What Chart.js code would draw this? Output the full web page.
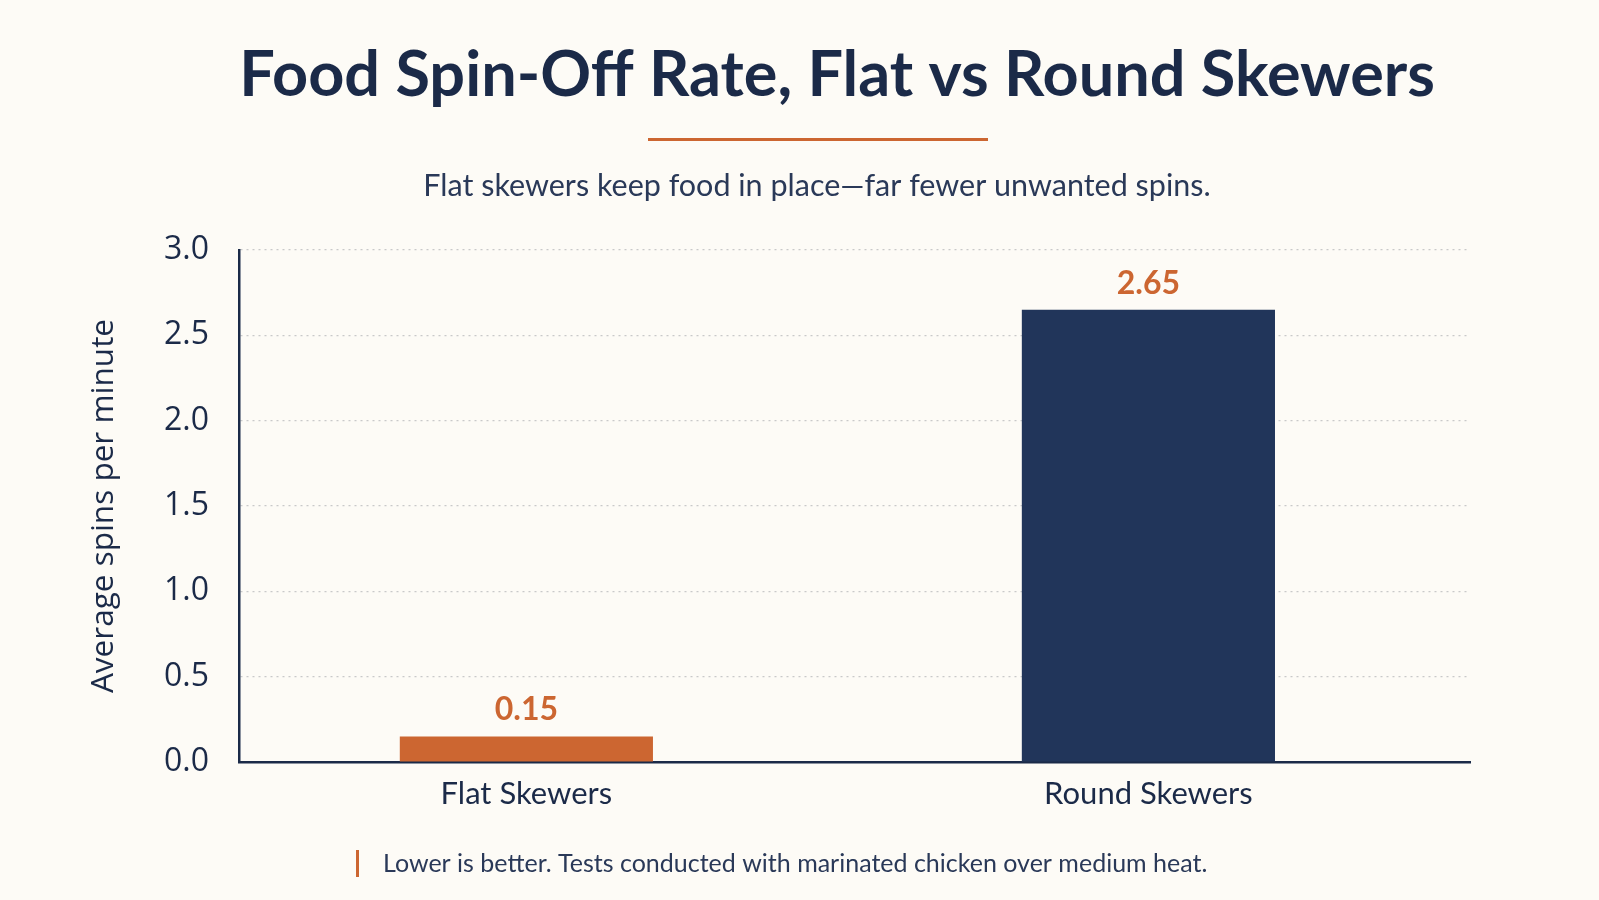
<!DOCTYPE html>
<html>
<head>
<meta charset="utf-8">
<title>Food Spin-Off Rate</title>
<script src="https://cdn.jsdelivr.net/npm/chart.js@4.4.1/dist/chart.umd.min.js"></script>
<style>
  html, body { margin: 0; padding: 0; background: #fdfbf6; }
  #wrap { position: relative; width: 1599px; height: 900px; }
</style>
</head>
<body>
<div id="wrap"><canvas id="spinChart"></canvas></div>
<script>
// data
const categories = ["Flat Skewers", "Round Skewers"];
const spinRates = [0.15, 2.65];
const barColors = ["#cc6631", "#21355a"];
const yMin = 0;
const yMax = 3.0;
const yStep = 0.5;
// category index range shown on the x axis (bars sit a little left of centre)
const xMin = -0.462;
const xMax = 1.517;

const titleText = "Food Spin-Off Rate, Flat vs Round Skewers";
const subtitleText = "Flat skewers keep food in place\u2014far fewer unwanted spins.";
const footText = "Lower is better. Tests conducted with marinated chicken over medium heat.";
const yTitle = "Average spins per minute";

const navy = "#1b2a48";
const orange = "#cc6631";

// title, accent rule, subtitle, footnote and value labels
const decoPlugin = {
    id: "deco",
    beforeDraw(chart) {
        const ctx = chart.ctx;
        ctx.save();
        ctx.fillStyle = "#fdfbf6";
        ctx.fillRect(0, 0, chart.width, chart.height);
        ctx.restore();
    },
    afterDraw(chart) {
        const ctx = chart.ctx;
        ctx.save();
        ctx.textAlign = "center";
        ctx.textBaseline = "alphabetic";

        ctx.fillStyle = navy;
        ctx.font = "bold 63px Lato";
        ctx.fillText(titleText, 837, 96);

        ctx.fillStyle = orange;
        ctx.fillRect(648, 138, 340, 3);

        ctx.fillStyle = "#2a3958";
        ctx.font = "30.5px Lato";
        ctx.fillText(subtitleText, 817, 196);

        // footnote
        ctx.fillStyle = orange;
        ctx.fillRect(356, 850, 3, 27);
        ctx.fillStyle = "#2a3958";
        ctx.textAlign = "left";
        ctx.font = "25px Lato";
        ctx.fillText(footText, 383, 872);

        // value labels above bars
        const meta = chart.getDatasetMeta(0);
        ctx.textAlign = "center";
        ctx.fillStyle = orange;
        ctx.font = "bold 32px Lato";
        meta.data.forEach(function (bar, i) {
            ctx.fillText(spinRates[i].toFixed(2), bar.x, bar.y - 16);
        });
        ctx.restore();
    }
};

var canvasElement = document.getElementById("spinChart");

var config = {
    type: "bar",
    data: {
        datasets: [
            {
                label: "Average spins per minute",
                data: spinRates.map(function (v, i) { return { x: i, y: v }; }),
                backgroundColor: barColors,
                borderWidth: 0,
                categoryPercentage: 1.0,
                barPercentage: 0.407
            }
        ]
    },
    options: {
        responsive: true,
        maintainAspectRatio: false,
        animation: false,
        layout: {
            padding: { top: 250, left: 70, right: 129, bottom: 78 }
        },
        plugins: {
            legend: { display: false },
            tooltip: { enabled: false }
        },
        scales: {
            x: {
                type: "linear",
                min: xMin,
                max: xMax,
                offset: false,
                bounds: "data",
                z: 1,
                grid: { display: false, drawTicks: false },
                border: { display: true, color: navy, width: 2.5 },
                afterBuildTicks(scale) {
                    scale.ticks = categories.map(function (c, i) { return { value: i }; });
                },
                ticks: {
                    color: navy,
                    padding: 13,
                    autoSkip: false,
                    maxRotation: 0,
                    font: { family: "Lato", size: 31 },
                    callback: function (v) { return categories[v]; }
                },
                afterFit(scale) { scale.height = 60; }
            },
            y: {
                min: yMin,
                max: yMax,
                grid: { color: "#c9c9c9", lineWidth: 1.2, drawTicks: false },
                border: { display: true, color: navy, width: 2.5, dash: [2, 4] },
                ticks: {
                    stepSize: yStep,
                    color: navy,
                    padding: 30,
                    font: { family: "'Open Sans'", size: 32 },
                    callback: function (v) { return Number(v).toFixed(1); }
                },
                title: {
                    display: true,
                    text: yTitle,
                    color: navy,
                    padding: { top: 15, bottom: 0 },
                    font: { family: "'Open Sans'", size: 31.5 }
                },
                afterFit(scale) { scale.width = 169; }
            }
        }
    },
    plugins: [decoPlugin]
};

var spinChart = new Chart(canvasElement, config);
</script>
</body>
</html>
